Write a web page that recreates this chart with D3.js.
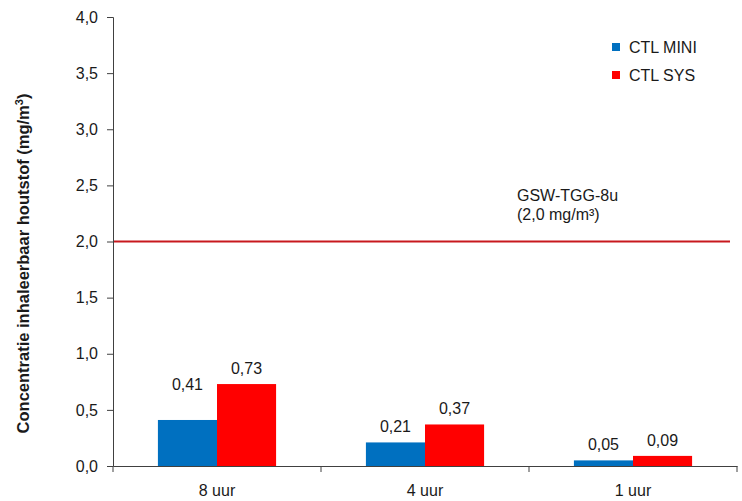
<!DOCTYPE html>
<html><head><meta charset="utf-8">
<script src="https://cdn.jsdelivr.net/npm/d3@7"></script>
<style>body{margin:0;background:#fff}svg{display:block}text{font-family:"Liberation Sans",Arial,sans-serif;fill:#1a1a1a}</style>
</head><body><svg id="c" width="742" height="501"></svg>
<script>
const categories = ["8 uur", "4 uur", "1 uur"];
const seriesNames = ["CTL MINI", "CTL SYS"];
const ctlMini = [0.41, 0.21, 0.05];
const ctlSys = [0.73, 0.37, 0.09];
const yTicks = [0, 0.5, 1.0, 1.5, 2.0, 2.5, 3.0, 3.5, 4.0];
const limitValue = 2.0;
const limitLabel = ["GSW-TGG-8u", "(2,0 mg/m³)"];
const colors = ["#0070C0", "#FF0000"];

const FS = 16;
const svg = d3.select("#c");
const m = {l:113, r:5, t:17, b:35};
const W = 742, H = 501;
const y = d3.scaleLinear().domain([0,4]).range([H-m.b, m.t]);
const x = d3.scaleBand().domain(categories).range([m.l, W-m.r]).paddingInner(0).paddingOuter(0);
const x1 = d3.scaleBand().domain(seriesNames).range([0, x.bandwidth()]).paddingOuter(0.76).paddingInner(0);
const fmt = v => d3.format(".2f")(v).replace(".", ",");
const fmt1 = v => d3.format(".1f")(v).replace(".", ",");

// bars
const data = categories.map((c,i)=>({c, vals:[ctlMini[i], ctlSys[i]]}));
const g = svg.append("g");
data.forEach((d,i)=>{
  d.vals.forEach((v,j)=>{
    const bx = x(d.c)+x1(seriesNames[j]);
    g.append("rect").attr("x",bx).attr("y",y(v)).attr("width",x1.bandwidth()).attr("height",y(0)-y(v)).attr("fill",colors[j]);
    g.append("text").attr("x",bx+x1.bandwidth()/2).attr("y",y(v)-(i===0&&j===0?30:10))
      .attr("text-anchor","middle").attr("font-size",FS).text(fmt(v));
  });
});

// limit line
svg.append("line").attr("x1",m.l).attr("x2",730).attr("y1",y(limitValue)).attr("y2",y(limitValue))
  .attr("stroke","#C8191E").attr("stroke-width",2);
svg.append("text").attr("x",517).attr("y",y(limitValue)-41).attr("font-size",FS).text(limitLabel[0]);
svg.append("text").attr("x",517).attr("y",y(limitValue)-22).attr("font-size",FS).text(limitLabel[1]);

// y axis
const ya = svg.append("g").attr("transform",`translate(${m.l},0)`)
  .call(d3.axisLeft(y).tickValues(yTicks).tickSize(6).tickPadding(9).tickFormat(fmt1));
ya.select(".domain").attr("stroke","#404040");
ya.selectAll(".tick line").attr("stroke","#404040");
ya.selectAll("text").attr("font-size",FS).attr("font-family","Liberation Sans, Arial, sans-serif").attr("fill","#1a1a1a");

// x axis
const xa = svg.append("g").attr("transform",`translate(0,${y(0)})`)
  .call(d3.axisBottom(x).tickSize(0).tickPadding(19));
xa.select(".domain").attr("stroke","#404040");
xa.selectAll("text").attr("font-size",FS).attr("font-family","Liberation Sans, Arial, sans-serif").attr("fill","#1a1a1a");
const bounds = categories.map(c=>x(c)).concat([x(categories[categories.length-1])+x.bandwidth()]);
xa.selectAll(".bt").data(bounds).enter().append("line").attr("x1",d=>d).attr("x2",d=>d).attr("y1",0).attr("y2",6).attr("stroke","#404040");

// y title
const yt = svg.append("text").attr("transform",`translate(29,${(m.t+H-m.b)/2+22}) rotate(-90)`)
  .attr("text-anchor","middle").attr("font-size",16.5).attr("font-weight","bold");
yt.append("tspan").text("Concentratie inhaleerbaar houtstof (mg/m");
yt.append("tspan").attr("dy",-6).attr("font-size",11).text("3");
yt.append("tspan").attr("dy",6).text(")");

// legend
seriesNames.forEach((s,i)=>{
  const ly = 47 + i*28;
  svg.append("rect").attr("x",612).attr("y",ly-4).attr("width",8).attr("height",8).attr("fill",colors[i]);
  svg.append("text").attr("x",629).attr("y",ly+5.5).attr("font-size",FS).text(s);
});
</script></body></html>
